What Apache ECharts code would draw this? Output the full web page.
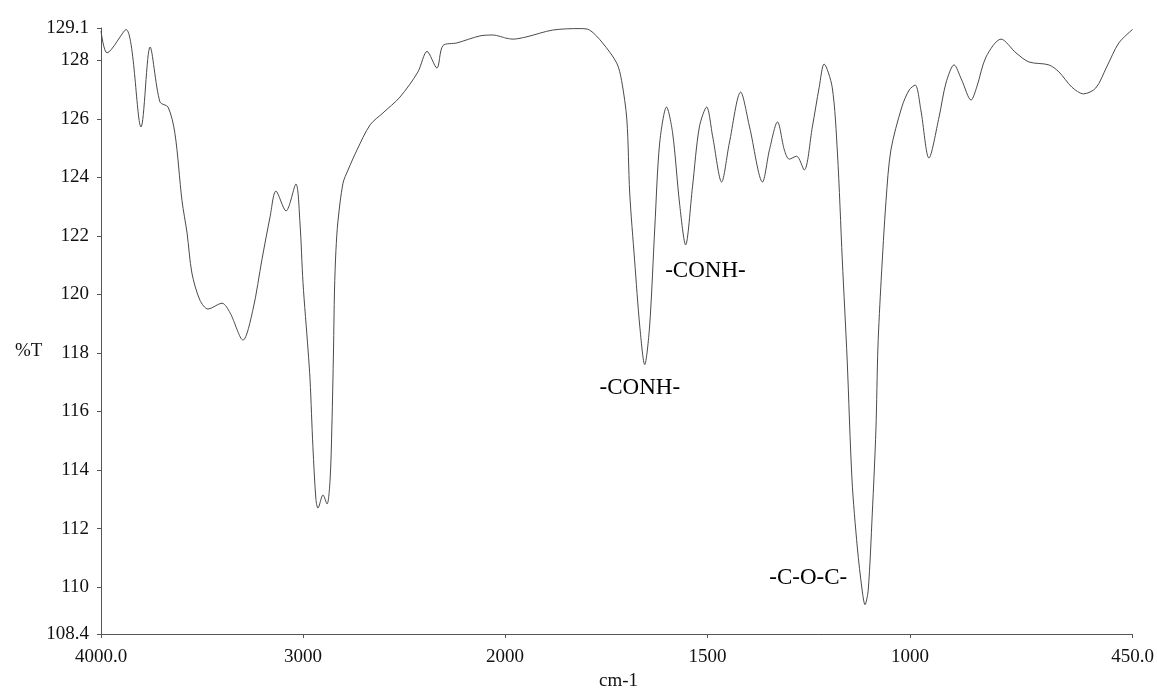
<!DOCTYPE html>
<html>
<head>
<meta charset="utf-8">
<title>IR spectrum</title>
<script src="https://cdn.jsdelivr.net/npm/echarts@6/dist/echarts.min.js"></script>
<style>
  html, body { margin: 0; padding: 0; background: #fff; }
  #chart { width: 1157px; height: 688px; }
</style>
</head>
<body>
<div id="chart"></div>
<script>
// wavenumber (cm-1) and %T
const wavenumber = [
  4000, 3970, 3876, 3802, 3757, 3708, 3668, 3634, 3599, 3574,
  3550, 3510, 3470, 3401, 3361, 3297, 3248, 3203, 3163, 3134,
  3084, 3035, 3015, 3000, 2975, 2965, 2951, 2936, 2926, 2901,
  2881, 2866, 2857, 2849, 2844, 2837, 2827, 2802, 2777, 2733,
  2668, 2604, 2520, 2431, 2386, 2337, 2307, 2238, 2124, 2060,
  2000, 1980, 1946, 1882, 1815, 1791, 1759, 1724, 1712, 1699,
  1692, 1680, 1667, 1655, 1643, 1630, 1618, 1601, 1586, 1569,
  1554, 1537, 1520, 1502, 1487, 1465, 1446, 1418, 1396, 1364,
  1347, 1327, 1310, 1298, 1280, 1261, 1241, 1224, 1212, 1192,
  1179, 1167, 1155, 1143, 1130, 1118, 1111, 1103, 1093, 1084,
  1079, 1071, 1059, 1047, 1020, 1002, 987, 973, 953, 928,
  911, 891, 872, 849, 835, 812, 775, 738, 706, 657,
  632, 600, 571, 541, 514, 484, 450
];
const transmittance = [
  129.0, 128.25, 129.05, 125.72, 128.45, 126.57, 126.4, 125.5, 123.2, 122.1,
  120.73, 119.8, 119.5, 119.7, 119.37, 118.44, 119.47, 121.2, 122.65, 123.53,
  122.85, 123.77, 122.44, 120.4, 118.1, 117.08, 114.8, 113.0, 112.7, 113.15,
  112.84, 113.66, 115.5, 118.1, 120.15, 121.5, 122.5, 123.8, 124.25, 124.93,
  125.79, 126.2, 126.74, 127.6, 128.3, 127.73, 128.5, 128.59, 128.83, 128.86,
  128.76, 128.72, 128.8, 129.03, 129.08, 129.03, 128.59, 127.9, 127.3, 125.96,
  123.46, 121.18, 118.89, 117.6, 118.89, 122.3, 125.17, 126.4, 125.51, 123.12,
  121.69, 123.67, 125.72, 126.4, 125.38, 123.84, 125.17, 126.91, 125.72, 123.84,
  124.93, 125.89, 124.93, 124.62, 124.72, 124.25, 125.72, 127.08, 127.87, 127.08,
  124.83, 121.18, 117.76, 113.66, 111.37, 109.9, 109.4, 109.9, 112.5, 115.37,
  118.2, 120.49, 123.2, 124.93, 126.4, 126.98, 127.15, 126.3, 124.66, 126.06,
  127.22, 127.84, 127.32, 126.64, 127.08, 128.11, 128.72, 128.25, 127.94, 127.84,
  127.6, 127.08, 126.85, 127.05, 127.77, 128.59, 129.05
];

const yTicks = [108.4, 110, 112, 114, 116, 118, 120, 122, 124, 126, 128, 129.1];
const xTicksHigh = [4000, 3000, 2000];
const xTicksLow = [1500, 1000, 450];

const noteText = ['-CONH-', '-CONH-', '-C-O-C-'];
const noteWn = [1505, 1667, 1251];
const noteT = [120.8, 116.8, 110.32];

const yMin = 108.4, yMax = 129.1;
const FONT = '"Liberation Serif", "DejaVu Serif", serif';

var pairs = wavenumber.map(function (w, i) { return [w, transmittance[i]]; });
var highPart = pairs.filter(function (p) { return p[0] >= 2000; });
var lowPart = pairs.filter(function (p) { return p[0] <= 2000; });

function fmtX(v) {
  if (v === 4000 || v === 450) return v.toFixed(1);
  return String(v);
}

var axisLine = { show: true, lineStyle: { color: '#555', width: 1 } };
var tickStyle = { show: true, length: 4, lineStyle: { color: '#555' } };
var labelStyle = { color: '#111', fontFamily: FONT, fontSize: 19 };

var myChart = echarts.init(document.getElementById('chart'));

var option = {
  animation: false,
  backgroundColor: '#fff',
  title: [
    { text: '%T', left: 10, top: 337, textStyle: { fontFamily: FONT, fontSize: 19, fontWeight: 'normal', color: '#111' } },
    { text: 'cm-1', left: 594, top: 667, textStyle: { fontFamily: FONT, fontSize: 19, fontWeight: 'normal', color: '#111' } }
  ],
  grid: [
    { left: 101, right: 652, top: 28, bottom: 54 },
    { left: 505, right: 23, top: 28, bottom: 54 }
  ],
  xAxis: [
    {
      type: 'value', gridIndex: 0, min: 2000, max: 4000, inverse: true,
      axisLine: axisLine,
      axisTick: Object.assign({ customValues: xTicksHigh }, tickStyle),
      axisLabel: Object.assign({ customValues: xTicksHigh, margin: 14, formatter: fmtX }, labelStyle),
      splitLine: { show: false }
    },
    {
      type: 'value', gridIndex: 1, min: 450, max: 2000, inverse: true,
      axisLine: axisLine,
      axisTick: Object.assign({ customValues: xTicksLow }, tickStyle),
      axisLabel: Object.assign({ customValues: xTicksLow, margin: 14, formatter: fmtX }, labelStyle),
      splitLine: { show: false }
    }
  ],
  yAxis: [
    {
      type: 'value', gridIndex: 0, min: yMin, max: yMax,
      axisLine: axisLine,
      axisTick: Object.assign({ customValues: yTicks }, tickStyle),
      axisLabel: Object.assign({ customValues: yTicks, margin: 12, formatter: function (v) { return String(v); } }, labelStyle),
      splitLine: { show: false }
    },
    {
      type: 'value', gridIndex: 1, min: yMin, max: yMax,
      axisLine: { show: false }, axisTick: { show: false }, axisLabel: { show: false },
      splitLine: { show: false }
    }
  ],
  series: [
    {
      type: 'line', xAxisIndex: 0, yAxisIndex: 0,
      data: highPart, showSymbol: false, smooth: 0.3,
      lineStyle: { color: '#4a4a4a', width: 1 }
    },
    {
      type: 'line', xAxisIndex: 1, yAxisIndex: 1,
      data: lowPart, showSymbol: false, smooth: 0.3,
      lineStyle: { color: '#4a4a4a', width: 1 },
      markPoint: {
        symbol: 'circle', symbolSize: 1,
        itemStyle: { color: 'rgba(0,0,0,0)' },
        label: { show: true, position: 'inside', color: '#000', fontFamily: FONT, fontSize: 23, formatter: '{b}' },
        data: noteText.map(function (t, i) {
          return { name: t, coord: [noteWn[i], noteT[i]] };
        })
      }
    }
  ]
};

option && myChart.setOption(option);
</script>
</body>
</html>
